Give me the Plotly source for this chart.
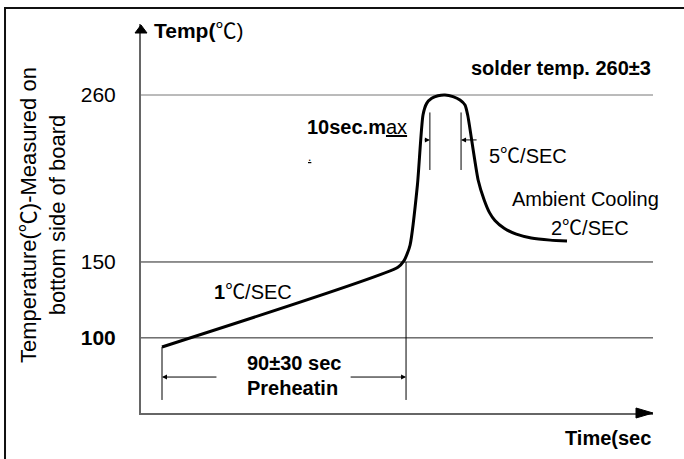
import plotly.graph_objects as go

# ---- data ----
time_s = [7.75, 94.8, 97.0, 98.2, 99.3, 102.0, 104.06, 105.42, 107.27, 109.6, 112.18,
          115.13, 117.71, 119.56, 120.55, 124.4, 126.6, 128.6, 130.6, 134.0, 138.5,
          144.0, 151.0, 157.2]
temp_c = [94.0, 146.5, 150.7, 155.3, 161.2, 200.7, 246.8, 254.5, 257.8, 259.5, 260.0,
          258.9, 256.7, 253.4, 246.8, 204.0, 191.0, 182.5, 177.3, 172.2, 168.3,
          165.8, 164.4, 163.8]
tick_vals = [100, 150, 260]
tick_text = ["<b>100</b>", "150", "260"]
grid_colors = ["#222", "#222", "#777"]

preheat_start, preheat_end = 7.75, 97.8
peak_left, peak_right = 106.6, 118.1

X_RANGE = [0, 188.93]
Y_RANGE = [50.51, 306.77]

FONT = "Arial, Liberation Sans, Noto Sans CJK SC, sans-serif"
FS = 20

fig = go.Figure()
fig.add_trace(go.Scatter(x=time_s, y=temp_c, mode="lines",
                         line=dict(color="black", width=3, shape="spline", smoothing=0.6),
                         hoverinfo="skip", showlegend=False))

shapes = []
# horizontal reference lines at the tick temperatures
for tv, col in zip(tick_vals, grid_colors):
    shapes.append(dict(type="line", xref="paper", yref="y", x0=0, x1=1, y0=tv, y1=tv,
                       layer="below", line=dict(color=col, width=1)))
for xv, ytop in [(preheat_start, 94.0), (preheat_end, 150.0)]:
    shapes.append(dict(type="line", xref="x", yref="y", x0=xv, x1=xv, y0=ytop, y1=59.1,
                       line=dict(color="black", width=1)))
for xv in [peak_left, peak_right]:
    shapes.append(dict(type="line", xref="x", yref="y", x0=xv, x1=xv, y0=248.5, y1=210.6,
                       line=dict(color="black", width=1)))
shapes.append(dict(type="path", xref="paper", yref="paper",
                   path="M -0.01172,0.97686 L 0,0.99743 L 0.01172,0.97686 Z",
                   fillcolor="black", line=dict(color="black", width=1)))
shapes.append(dict(type="path", xref="paper", yref="paper",
                   path="M 0.9668,0.01285 L 1.0,0 L 0.9668,-0.01285 Z",
                   fillcolor="black", line=dict(color="black", width=1)))
shapes.append(dict(type="rect", xref="paper", yref="paper",
                   x0=-0.2656, x1=1.2, y0=-0.3, y1=1.0411,
                   line=dict(color="#111", width=2)))

ann = []
def txt(x, y, s, xanchor="left", size=FS, ref="data"):
    ann.append(dict(x=x, y=y, xref="x" if ref == "data" else "paper",
                    yref="y" if ref == "data" else "paper", text=s, showarrow=False,
                    xanchor=xanchor, yanchor="middle",
                    font=dict(family=FONT, size=size, color="black")))

txt(4.06, 302.8, "<b>Temp(</b>℃)", size=21)
txt(188.9, 277.8, "<b>solder temp. 260±3</b>", xanchor="right")
txt(60.5, 238.9, "<b>10sec.m</b><u>ax</u>")
txt(61.0, 219.0, "<u>.</u>", size=12)
txt(127.7, 219.8, "5℃/SEC")
txt(136.2, 191.5, "Ambient Cooling")
txt(150.6, 172.4, "2℃/SEC")
txt(26.2, 130.2, "<b>1</b>℃/SEC")
txt(38.4, 83.5, "<b>90±30 sec</b>")
txt(38.4, 67.0, "<b>Preheatin</b>")
txt(1.0, -0.0643, "<b>Time(sec</b>", xanchor="right", ref="paper")

ann.append(dict(x=-0.1914, y=0.509, xref="paper", yref="paper",
                text="Temperature(℃)-Measured on<br>bottom side of board",
                textangle=-90, showarrow=False, xanchor="center", yanchor="middle",
                font=dict(family=FONT, size=22, color="black")))

def arrow(x_tip, x_tail, yv):
    ann.append(dict(x=x_tip, y=yv, ax=x_tail, ay=yv, xref="x", yref="y",
                    axref="x", ayref="y", text="", showarrow=True,
                    arrowhead=2, arrowsize=1, arrowwidth=1, arrowcolor="black"))

arrow(preheat_start, 28.4, 74.2)
arrow(preheat_end, 76.8, 74.2)
arrow(peak_left, 104.1, 230.4)
arrow(peak_right, 124.4, 230.4)

fig.update_layout(
    width=684, height=459,
    margin=dict(l=141, r=31, t=24, b=46, pad=0),
    paper_bgcolor="white", plot_bgcolor="white",
    shapes=shapes, annotations=ann, showlegend=False,
    xaxis=dict(range=X_RANGE, showgrid=False, zeroline=False, showline=True,
               linecolor="#666", linewidth=2, showticklabels=False, ticks="",
               fixedrange=True),
    yaxis=dict(range=Y_RANGE, tickvals=tick_vals, ticktext=tick_text, showgrid=False,
               zeroline=False, showline=True,
               linecolor="#666", linewidth=2, ticks="", ticklabelstandoff=19,
               tickfont=dict(family=FONT, size=21, color="black"), fixedrange=True),
)

fig.write_html("out.html", config={"displayModeBar": False},
               post_script="document.body.style.margin='0';document.body.style.padding='0';")
